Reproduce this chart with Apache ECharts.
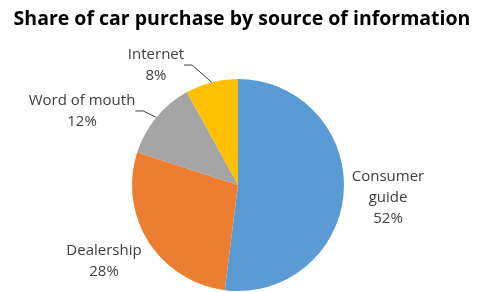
<!DOCTYPE html>
<html>
<head>
<meta charset="utf-8">
<script src="https://cdn.jsdelivr.net/npm/echarts@6/dist/echarts.min.js"></script>
<style>
    html, body { margin: 0; padding: 0; background: #fff; }
    #chart { width: 484px; height: 292px; }
</style>
</head>
<body>
<div id="chart"></div>
<script>
// 数据
var categories = ['Consumer guide', 'Dealership', 'Word of mouth', 'Internet'];
var values = [52, 28, 12, 8];
var colors = ['#5B9BD5', '#ED7D31', '#A5A5A5', '#FFC000'];
// 标签显示文字（Excel 里“Consumer guide”换行）
var labelNames = ['Consumer\nguide', 'Dealership', 'Word of mouth', 'Internet'];
// 标签中心位置
var labelPos = [[388, 198], [104, 261], [82, 111], [156, 65]];

var chart = echarts.init(document.getElementById('chart'));

function buildData() {
    var arr = [];
    for (var i = 0; i < categories.length; i++) {
        arr.push({
            value: values[i],
            name: categories[i],
            itemStyle: { color: colors[i] },
            labelLine: { show: i >= 2 }
        });
    }
    return arr;
}

var option = {
    animation: false,
    title: {
        text: 'Share of car purchase by source of information',
        left: 'center',
        top: 4,
        textStyle: {
            fontFamily: 'Open Sans',
            fontWeight: 'bold',
            fontSize: 19.5,
            color: '#000'
        }
    },
    series: [
        {
            type: 'pie',
            center: [238, 185],
            radius: 106,
            startAngle: 90,
            clockwise: true,
            label: {
                show: true,
                position: 'outside',
                fontFamily: 'Open Sans',
                fontSize: 15,
                lineHeight: 21,
                color: '#404040',
                align: 'center',
                formatter: function (p) {
                    return labelNames[p.dataIndex] + '\n' + p.value + '%';
                }
            },
            labelLine: {
                show: true,
                length: 8,
                length2: 8,
                lineStyle: { color: '#404040', width: 1 }
            },
            labelLayout: function (p) {
                var pos = labelPos[p.dataIndex];
                return {
                    x: pos[0],
                    y: pos[1],
                    align: 'center',
                    verticalAlign: 'middle'
                };
            },
            data: buildData()
        }
    ]
};
chart.setOption(option);
</script>
</body>
</html>
